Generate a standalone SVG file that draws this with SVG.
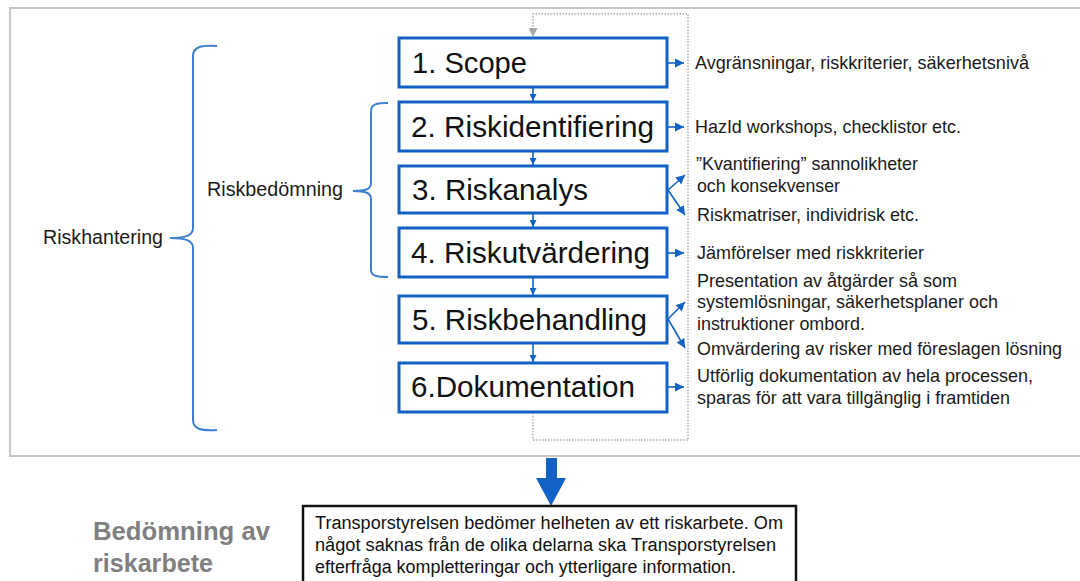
<svg xmlns="http://www.w3.org/2000/svg" width="1080" height="581" viewBox="0 0 1080 581">
  <style>
    .frame { fill: #ffffff; stroke: #c8c8c8; stroke-width: 2; }
    .step rect { fill: #ffffff; stroke: #1261c4; stroke-width: 3; }
    .step text { font-family: "Liberation Sans", Arial, sans-serif; font-size: 29.5px; fill: #111111; }
    .note { font-family: "Liberation Sans", Arial, sans-serif; font-size: 18.5px; fill: #1a1a1a; }
    .brace { fill: none; stroke: #3f7fd0; stroke-width: 2; }
    .side { font-family: "Liberation Sans", Arial, sans-serif; font-size: 20.5px; fill: #1a1a1a; }
    .flow { fill: none; stroke: #1261c4; stroke-width: 1.6; }
    .loop { fill: none; stroke: #a6a6a6; stroke-width: 1.4; stroke-dasharray: 1.5 1.5; }
    .title { font-family: "Liberation Sans", Arial, sans-serif; font-size: 25.5px; font-weight: bold; fill: #7f7f7f; }
    .body { font-family: "Liberation Sans", Arial, sans-serif; font-size: 18px; fill: #111111; }
  </style>
  <defs>
    <marker id="tip" viewBox="0 0 10 10" refX="10" refY="5" markerWidth="7" markerHeight="7" markerUnits="userSpaceOnUse" orient="auto">
      <path d="M0,0 L10,5 L0,10 z" fill="#1261c4"/>
    </marker>
    <marker id="tipBig" viewBox="0 0 10 10" refX="10" refY="5" markerWidth="9" markerHeight="9" markerUnits="userSpaceOnUse" orient="auto">
      <path d="M0,0 L10,5 L0,10 z" fill="#1261c4"/>
    </marker>
    <marker id="tipGray" viewBox="0 0 10 10" refX="10" refY="5" markerWidth="9" markerHeight="9" markerUnits="userSpaceOnUse" orient="auto">
      <path d="M0,0 L10,5 L0,10 z" fill="#a6a6a6"/>
    </marker>
  </defs>

  <rect width="1080" height="581" fill="#ffffff"/>
  <!-- outer frame, open on the right -->
  <rect class="frame" x="10" y="8" width="1090" height="448"/>

  <!-- braces -->
  <g id="riskhantering">
    <path class="brace" d="M217,46 C201,45 193,47 193,56 V228 C193,235 187,238 170,238 C187,238 193,241 193,248 V420 C193,429 201,431 217,430"/>
    <text class="side" x="43" y="244" textLength="120" lengthAdjust="spacingAndGlyphs">Riskhantering</text>
  </g>
  <g id="riskbedomning">
    <path class="brace" d="M388,103 C377,103 371,104 371,111 V183 C371,189 366,191 353,191 C366,191 371,193 371,199 V270 C371,276 377,277 388,277"/>
    <text class="side" x="207" y="196" textLength="136" lengthAdjust="spacingAndGlyphs">Riskbedömning</text>
  </g>

  <!-- process steps -->
  <g id="step1" class="step">
    <rect x="399" y="38" width="268" height="49"/>
    <text x="412" y="73" textLength="115" lengthAdjust="spacingAndGlyphs">1. Scope</text>
  </g>
  <g id="step2" class="step">
    <rect x="399" y="102" width="268" height="49"/>
    <text x="411" y="137" textLength="243" lengthAdjust="spacingAndGlyphs">2. Riskidentifiering</text>
  </g>
  <g id="step3" class="step">
    <rect x="399" y="166" width="268" height="47"/>
    <text x="412" y="200" textLength="176" lengthAdjust="spacingAndGlyphs">3. Riskanalys</text>
  </g>
  <g id="step4" class="step">
    <rect x="399" y="228" width="268" height="49"/>
    <text x="411" y="263" textLength="239" lengthAdjust="spacingAndGlyphs">4. Riskutvärdering</text>
  </g>
  <g id="step5" class="step">
    <rect x="399" y="296" width="268" height="47"/>
    <text x="412" y="330" textLength="235" lengthAdjust="spacingAndGlyphs">5. Riskbehandling</text>
  </g>
  <g id="step6" class="step">
    <rect x="399" y="363" width="268" height="49"/>
    <text x="411" y="397" textLength="224" lengthAdjust="spacingAndGlyphs">6.Dokumentation</text>
  </g>

  <!-- notes beside the steps -->
  <g id="notes">
    <text class="note" x="695" y="69" textLength="334" lengthAdjust="spacingAndGlyphs">Avgränsningar, riskkriterier, säkerhetsnivå</text>
    <text class="note" x="695" y="133" textLength="266" lengthAdjust="spacingAndGlyphs">HazId workshops, checklistor etc.</text>
    <text class="note" x="696" y="170" textLength="222" lengthAdjust="spacingAndGlyphs">”Kvantifiering” sannolikheter</text>
    <text class="note" x="697" y="192" textLength="143" lengthAdjust="spacingAndGlyphs">och konsekvenser</text>
    <text class="note" x="697" y="221" textLength="222" lengthAdjust="spacingAndGlyphs">Riskmatriser, individrisk etc.</text>
    <text class="note" x="697" y="259" textLength="227" lengthAdjust="spacingAndGlyphs">Jämförelser med riskkriterier</text>
    <text class="note" x="697" y="287" textLength="260" lengthAdjust="spacingAndGlyphs">Presentation av åtgärder så som</text>
    <text class="note" x="697" y="308" textLength="301" lengthAdjust="spacingAndGlyphs">systemlösningar, säkerhetsplaner och</text>
    <text class="note" x="697" y="330" textLength="168" lengthAdjust="spacingAndGlyphs">instruktioner ombord.</text>
    <text class="note" x="697" y="355" textLength="365" lengthAdjust="spacingAndGlyphs">Omvärdering av risker med föreslagen lösning</text>
    <text class="note" x="697" y="382" textLength="336" lengthAdjust="spacingAndGlyphs">Utförlig dokumentation av hela processen,</text>
    <text class="note" x="697" y="404" textLength="313" lengthAdjust="spacingAndGlyphs">sparas för att vara tillgänglig i framtiden</text>
  </g>

  <!-- connectors -->
  <g id="connectors">
    <!-- step to step -->
    <line class="flow" x1="533" y1="88" x2="533" y2="101" marker-end="url(#tip)"/>
    <line class="flow" x1="533" y1="152" x2="533" y2="165" marker-end="url(#tip)"/>
    <line class="flow" x1="533" y1="214" x2="533" y2="227" marker-end="url(#tip)"/>
    <line class="flow" x1="533" y1="278" x2="533" y2="295" marker-end="url(#tip)"/>
    <line class="flow" x1="533" y1="344" x2="533" y2="362" marker-end="url(#tip)"/>
    <!-- step to note -->
    <line class="flow" x1="668" y1="63" x2="684" y2="63" marker-end="url(#tipBig)"/>
    <line class="flow" x1="668" y1="127" x2="684" y2="127" marker-end="url(#tipBig)"/>
    <line class="flow" x1="668" y1="190" x2="685" y2="175" marker-end="url(#tipBig)"/>
    <line class="flow" x1="668" y1="190" x2="685" y2="215" marker-end="url(#tipBig)"/>
    <line class="flow" x1="668" y1="253" x2="684" y2="253" marker-end="url(#tipBig)"/>
    <line class="flow" x1="668" y1="319" x2="685" y2="302" marker-end="url(#tipBig)"/>
    <line class="flow" x1="668" y1="319" x2="685" y2="348" marker-end="url(#tipBig)"/>
    <line class="flow" x1="668" y1="387" x2="684" y2="387" marker-end="url(#tipBig)"/>
    <!-- feedback loop from documentation back to scope -->
    <path class="loop" d="M533,413 V440 H688 V14 H533 V37" marker-end="url(#tipGray)"/>
    <!-- hand-over to assessment -->
    <path d="M546,458 H557 V478 H566 L551,506 L536,478 H546 Z" fill="#1261c4"/>
  </g>

  <!-- assessment of the risk work -->
  <g id="assessment">
    <text class="title" x="93" y="540" textLength="177" lengthAdjust="spacingAndGlyphs">Bedömning av</text>
    <text class="title" x="93" y="572" textLength="120" lengthAdjust="spacingAndGlyphs">riskarbete</text>
    <rect x="303" y="506" width="493" height="90" fill="#ffffff" stroke="#111111" stroke-width="2.5"/>
    <text class="body" x="315" y="529" textLength="468" lengthAdjust="spacingAndGlyphs">Transporstyrelsen bedömer helheten av ett riskarbete. Om</text>
    <text class="body" x="315" y="551" textLength="461" lengthAdjust="spacingAndGlyphs">något saknas från de olika delarna ska Transporstyrelsen</text>
    <text class="body" x="315" y="573" textLength="421" lengthAdjust="spacingAndGlyphs">efterfråga kompletteringar och ytterligare information.</text>
  </g>
</svg>
